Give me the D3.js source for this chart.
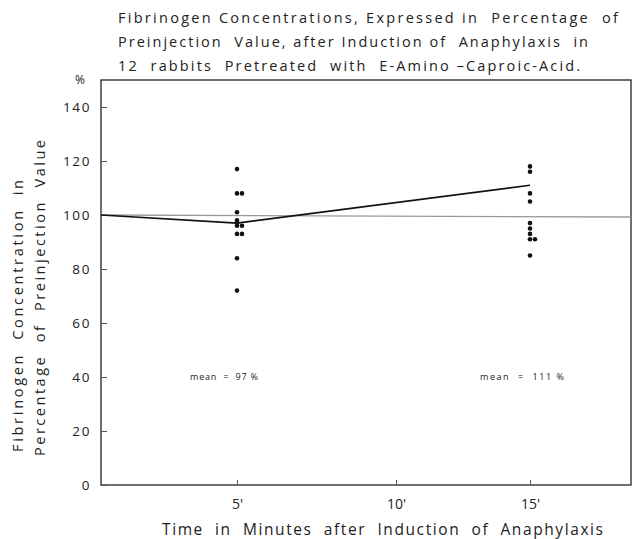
<!DOCTYPE html>
<html lang="en">

<head>
  <meta charset="UTF-8" />
  <title>Fibrinogen</title>
  <script src="https://d3js.org/d3.v7.min.js"></script>
  <style>
    * {
      margin: 0;
      padding: 0;
    }

    body {
      background: #fff;
    }

    svg text {
      font-family: "Open Sans", "DejaVu Sans", sans-serif;
      fill: #222;
      white-space: pre;
    }
  </style>
</head>

<body>
  <script>
    // data
    const titleLines = [
      'Fibrinogen Concentrations, Expressed in  Percentage  of',
      'Preinjection  Value, after Induction of  Anaphylaxis  in',
      '12  rabbits  Pretreated  with  E-Amino \u2013Caproic-Acid.'
    ];
    const yLabelLines = ['Fibrinogen  Concentration  in', 'Percentage  of  Preinjection  Value'];
    const xLabel = 'Time  in  Minutes  after  Induction  of  Anaphylaxis';
    const yTicks = [0, 20, 40, 60, 80, 100, 120, 140];
    const xTicks = [5, 10, 15];
    const xTickLabels = ["5'", "10'", "15'"];
    const times = [5, 15];
    const values5 = [117, 108, 108, 101, 98, 97, 96, 96, 93, 93, 84, 72];
    const values15 = [118, 116, 108, 105, 97, 95, 93, 91, 91, 85];
    const meanTimes = [0, 5, 15];
    const meanValues = [100, 97, 111];
    const meanLabels = ['mean  =  97 %', 'mean  =  111 %'];

    const [w, h] = [633, 539];
    const [pLeft, pRight, pTop, pBottom] = [101, 631, 80, 485];

    const svg = d3.select('body').append('svg')
      .attr('width', w)
      .attr('height', h);

    // hand drawn axis, ticks not evenly spaced
    const x = d3.scaleLinear()
      .domain([0, 5, 10, 15, 18.5])
      .range([pLeft, 237, 396, 530, pRight]);

    const y = d3.scaleLinear()
      .domain([0, 140])
      .range([pBottom, 107]);

    //title
    svg.append('g').selectAll('text')
      .data(titleLines)
      .join('text')
      .attr('x', 118)
      .attr('y', (d, i) => 23 + i * 24)
      .attr('textLength', (d, i) => [500, 470, 462][i])
      .attr('lengthAdjust', 'spacing')
      .style('font-size', '14.5px')
      .text(d => d);

    //frame
    svg.append('rect')
      .attr('x', pLeft)
      .attr('y', pTop)
      .attr('width', pRight - pLeft)
      .attr('height', pBottom - pTop)
      .attr('fill', 'none')
      .attr('stroke', '#222')
      .attr('stroke-width', 1.3);

    //y axis
    const yAxis = d3.axisLeft(y)
      .tickValues(yTicks)
      .tickSize(-6)
      .tickPadding(10);

    const gy = svg.append('g')
      .attr('transform', `translate(${pLeft},0)`)
      .call(yAxis);
    gy.select('.domain').remove();
    gy.selectAll('.tick line').attr('stroke', '#555');
    gy.selectAll('.tick text')
      .style('font-size', '13.5px')
      .style('letter-spacing', '1.6px')
      .style('font-family', '"Open Sans", sans-serif')
      .attr('fill', '#333');

    svg.append('text')
      .attr('x', 80)
      .attr('y', 84)
      .attr('text-anchor', 'middle')
      .style('font-size', '12px')
      .text('%');

    //x axis
    const xAxis = d3.axisBottom(x)
      .tickValues(xTicks)
      .tickFormat((d, i) => xTickLabels[i])
      .tickSize(-5)
      .tickPadding(14);

    const gx = svg.append('g')
      .attr('transform', `translate(0,${pBottom})`)
      .call(xAxis);
    gx.select('.domain').remove();
    gx.selectAll('.tick line').attr('stroke', '#555');
    gx.selectAll('.tick text')
      .style('font-size', '14px')
      .style('font-family', '"Open Sans", sans-serif')
      .attr('fill', '#333');

    //axis titles
    svg.append('text')
      .attr('x', 162)
      .attr('y', 535)
      .attr('textLength', 441)
      .attr('lengthAdjust', 'spacing')
      .style('font-size', '15.5px')
      .text(xLabel);

    svg.append('g').selectAll('text')
      .data(yLabelLines)
      .join('text')
      .attr('transform', (d, i) => `translate(${23 + i * 22}, ${[452, 456][i]}) rotate(-90)`)
      .attr('textLength', (d, i) => [272, 316][i])
      .attr('lengthAdjust', 'spacing')
      .style('font-size', '14.5px')
      .text(d => d);

    //reference line at 100 %
    svg.append('line')
      .attr('x1', pLeft)
      .attr('x2', pRight)
      .attr('y1', y(100))
      .attr('y2', y(100) + 2)
      .attr('stroke', '#999')
      .attr('stroke-width', 1.3);

    //mean line
    svg.append('path')
      .datum(meanTimes.map((t, i) => [t, meanValues[i]]))
      .attr('fill', 'none')
      .attr('stroke', '#111')
      .attr('stroke-width', 1.6)
      .attr('d', d3.line().x(d => x(d[0])).y(d => y(d[1])));

    //single animals, equal values drawn side by side
    const points = [];
    [values5, values15].forEach((vals, k) => {
      const seen = {};
      vals.forEach(v => {
        seen[v] = (seen[v] || 0) + 1;
        points.push({ t: times[k], v: v, n: seen[v] - 1 });
      });
    });

    svg.append('g').selectAll('circle')
      .data(points)
      .join('circle')
      .attr('cx', d => x(d.t) + d.n * 5)
      .attr('cy', d => y(d.v))
      .attr('r', 2.3)
      .attr('fill', '#111');

    //mean labels
    svg.append('g').selectAll('text')
      .data(meanLabels)
      .join('text')
      .attr('x', (d, i) => x(times[i]) - [47, 50][i])
      .attr('y', y(39))
      .attr('textLength', (d, i) => [68, 84][i])
      .attr('lengthAdjust', 'spacing')
      .style('font-size', '9px')
      .text(d => d);
  </script>
</body>

</html>
